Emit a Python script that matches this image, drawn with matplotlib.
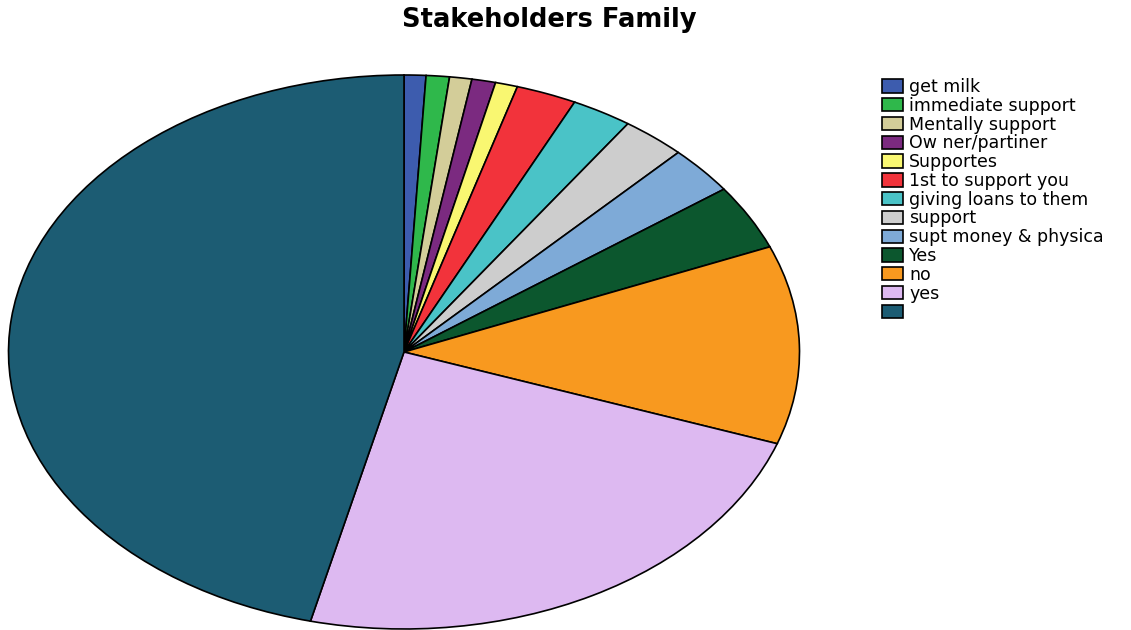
import matplotlib
matplotlib.use("Agg")
import matplotlib.pyplot as plt

# Share of responses per stakeholder-family answer (percent)
labels = [
    "get milk", "immediate support", "Mentally support", "Ow ner/partiner",
    "Supportes", "1st to support you", "giving loans to them", "support",
    "supt money & physica", "Yes", "no", "yes", "",
]
shares = [0.89, 0.95, 0.91, 0.97, 0.91, 2.47, 2.48, 2.62, 2.80, 3.80, 11.57, 23.43, 46.20]
colors = [
    "#3d5cae", "#2fb84b", "#d3cd99", "#7b2a80", "#f9f771", "#f2333b",
    "#4ac3c7", "#cdcdcd", "#7eaad7", "#0c572e", "#f8991f", "#ddb9f1", "#1c5c73",
]
title = "Stakeholders Family"

W, H = 1131, 630
fig = plt.figure(figsize=(W / 100, H / 100), dpi=100)
fig.patch.set_facecolor("white")

# Pie axes stretched horizontally so the pie renders as an ellipse
cx, cy, rx, ry = 404, 352, 395.5, 277
ax = fig.add_axes([(cx - rx) / W, (H - cy - ry) / H, 2 * rx / W, 2 * ry / H])
wedges, _ = ax.pie(
    shares,
    colors=colors,
    startangle=90,
    counterclock=False,
    wedgeprops=dict(edgecolor="black", linewidth=1.2),
)
for w in wedges:
    w.set_clip_on(False)
ax.set_aspect("auto")
ax.set_xlim(-1, 1)
ax.set_ylim(-1, 1)
ax.axis("off")

fig.text(549 / W, 1 - 20 / H, title, ha="center", va="center",
         fontsize=18.5, fontweight="bold", family="DejaVu Sans")

fs = 12.5
px = fs * 100 / 72
leg = fig.legend(
    wedges, labels,
    loc="upper left",
    bbox_to_anchor=(882 / W, 1 - 78 / H),
    frameon=False,
    prop=dict(family="DejaVu Sans", size=fs),
    handlelength=21 / px,
    handleheight=14 / px,
    handletextpad=6 / px,
    labelspacing=0.045,
    borderpad=0,
    borderaxespad=0,
)
for h in leg.legend_handles:
    h.set_linewidth(1.2)
    h.set_edgecolor("black")

fig.savefig("out.png", dpi=100, facecolor="white")
